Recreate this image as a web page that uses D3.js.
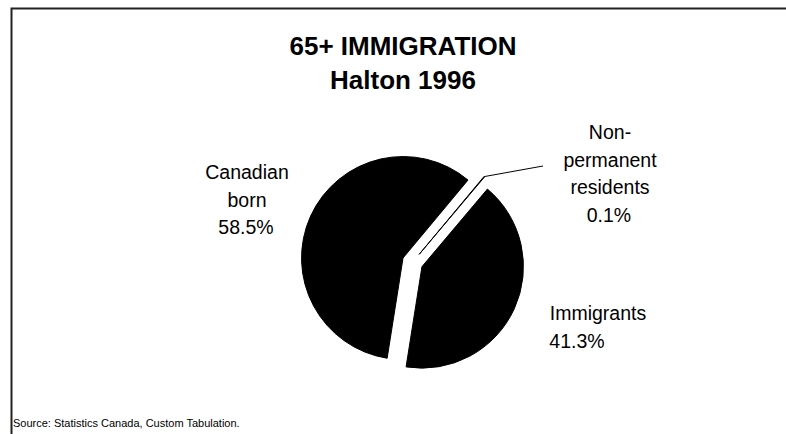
<!DOCTYPE html>
<html>
<head>
<meta charset="utf-8">
<script src="https://cdn.jsdelivr.net/npm/d3@7"></script>
<style>
  html, body { margin: 0; padding: 0; background: #fff; }
  svg { display: block; }
  text { font-family: "Liberation Sans", Arial, sans-serif; fill: #000; }
</style>
</head>
<body>
<svg id="chart" width="786" height="434"></svg>
<script>
// ---- data ----
const titleLines = ["65+ IMMIGRATION", "Halton 1996"];
const categories = ["Canadian born", "Non-permanent residents", "Immigrants"];
const values = [58.5, 0.1, 41.3];
const labelLines = [
  ["Canadian", "born"],
  ["Non-", "permanent", "residents"],
  ["Immigrants"]
];
const sourceNote = "Source: Statistics Canada, Custom Tabulation.";

// ---- layout ----
const W = 786, H = 434;
const cx = 412.5, cy = 262.3, R = 101.5, explode = 10.4;
const startDeg = 189;
const svg = d3.select("#chart");

// frame (clipped on right/bottom)
svg.append("path")
  .attr("d", `M11.5,${H} V8.5 H${W}`)
  .attr("fill", "none")
  .attr("stroke", "#222")
  .attr("stroke-width", 2);

// title
svg.append("g").selectAll("text").data(titleLines).join("text")
  .attr("x", 403)
  .attr("y", (d, i) => 55 + i * 34)
  .attr("text-anchor", "middle")
  .attr("font-size", 26)
  .attr("font-weight", "bold")
  .text(d => d);

// pie
const data = categories.map((c, i) => ({ cat: c, value: values[i], lines: labelLines[i] }));
const pie = d3.pie().value(d => d.value).sort(null)
  .startAngle(startDeg * Math.PI / 180)
  .endAngle(startDeg * Math.PI / 180 + 2 * Math.PI);
const arcs = pie(data);
const arc = d3.arc().innerRadius(0).outerRadius(R);

const g = svg.append("g").attr("transform", `translate(${cx},${cy})`);
function offset(a) {
  const m = (a.startAngle + a.endAngle) / 2;
  return [Math.sin(m) * explode, -Math.cos(m) * explode];
}
g.selectAll("path").data(arcs).join("path")
  .attr("d", arc)
  .attr("transform", d => { const o = offset(d); return `translate(${o[0]},${o[1]})`; })
  .attr("fill", "#000")
  .attr("stroke", "#000")
  .attr("stroke-width", 1);

// labels
const labelPos = [
  { x: 247, y: 179, anchor: "middle" },
  { x: 610, y: 139, anchor: "middle" },
  { x: 598, y: 320, anchor: "middle" }
];
const pctX = [246, 609, 577];
const lineH = 27.5;
const fmt = d3.format(".1f");

arcs.forEach((a, i) => {
  const p = labelPos[i];
  const lines = a.data.lines.concat([fmt(a.data.value) + "%"]);
  const t = svg.append("text")
    .attr("text-anchor", p.anchor)
    .attr("font-size", 19.5);
  lines.forEach((ln, j) => {
    t.append("tspan")
      .attr("x", j === lines.length - 1 ? pctX[i] : p.x)
      .attr("y", p.y + j * lineH)
      .text(ln);
  });
});

// leader line for the small slice
{
  const a = arcs[1];
  const m = (a.startAngle + a.endAngle) / 2;
  const o = offset(a);
  const x0 = cx + o[0] + Math.sin(m) * R;
  const y0 = cy + o[1] - Math.cos(m) * R;
  svg.append("path")
    .attr("d", `M${x0},${y0} L${labelPos[1].x - 67},${labelPos[1].y + 27}`)
    .attr("fill", "none")
    .attr("stroke", "#000")
    .attr("stroke-width", 1);
}

// source
svg.append("text")
  .attr("x", 13)
  .attr("y", 427)
  .attr("font-size", 11)
  .text(sourceNote);
</script>
</body>
</html>
